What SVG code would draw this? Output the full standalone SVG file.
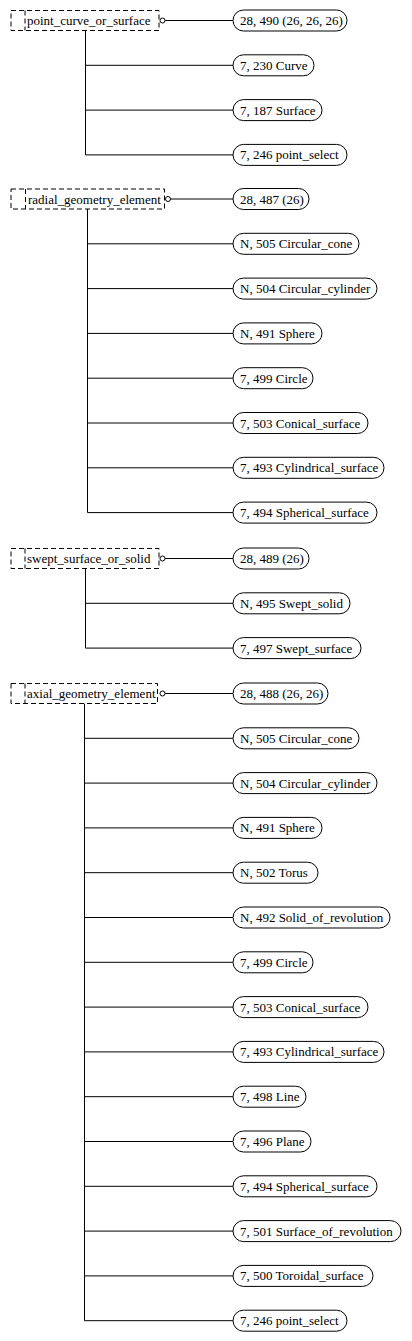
<svg xmlns="http://www.w3.org/2000/svg" width="412" height="1341" viewBox="0 0 412 1341">
<style>
text{font-family:"Liberation Serif","Times New Roman",serif;font-size:13px;fill:#000}
.hb{fill:#fff;stroke:#000;stroke-width:1;stroke-dasharray:5 3}
.pill{fill:#fff;stroke:#000;stroke-width:1}
.ln{stroke:#000;stroke-width:1;fill:none}
.oc{fill:#fff;stroke:#000;stroke-width:1}
</style>
<rect width="412" height="1341" fill="#fff"/>
<g id="connectors">
<!-- group 1 -->
<line class="ln" x1="165" y1="20.5" x2="233" y2="20.5"/>
<path class="ln" d="M85.5 30.5V154.9M85.5 65.3H233M85.5 110.1H233M85.5 154.9H233"/>
<!-- group 2 -->
<line class="ln" x1="170.5" y1="199" x2="233" y2="199"/>
<path class="ln" d="M87.5 209V512.6M87.5 243.8H233M87.5 288.6H233M87.5 333.4H233M87.5 378.2H233M87.5 423H233M87.5 467.8H233M87.5 512.6H233"/>
<!-- group 3 -->
<line class="ln" x1="165" y1="558.5" x2="233" y2="558.5"/>
<path class="ln" d="M85.5 568.5V648.1M85.5 603.3H233M85.5 648.1H233"/>
<!-- group 4 -->
<line class="ln" x1="165" y1="693.5" x2="233" y2="693.5"/>
<path class="ln" d="M84.5 703.5V1320.7M84.5 738.3H233M84.5 783.1H233M84.5 827.9H233M84.5 872.7H233M84.5 917.5H233M84.5 962.3H233M84.5 1007.1H233M84.5 1051.9H233M84.5 1096.7H233M84.5 1141.5H233M84.5 1186.3H233M84.5 1231.1H233M84.5 1275.9H233M84.5 1320.7H233"/>
</g>

<g id="point_curve_or_surface">
<rect class="hb" x="11" y="10.5" width="148" height="20"/>
<line class="hb" x1="25" y1="10.5" x2="25" y2="30.5"/>
<circle class="oc" cx="162.5" cy="20.5" r="2.5"/>
<text x="27" y="25">point_curve_or_surface</text>
</g>
<g id="n1_1"><rect class="pill" x="233" y="10" width="114" height="21" rx="10.5"/><text x="240" y="25">28, 490 (26, 26, 26)</text></g>
<g id="n1_2"><rect class="pill" x="233" y="54.8" width="81" height="21" rx="10.5"/><text x="240" y="69.8">7, 230 Curve</text></g>
<g id="n1_3"><rect class="pill" x="233" y="99.6" width="89" height="21" rx="10.5"/><text x="240" y="114.6">7, 187 Surface</text></g>
<g id="n1_4"><rect class="pill" x="233" y="144.4" width="114" height="21" rx="10.5"/><text x="240" y="159.4">7, 246 point_select</text></g>

<g id="radial_geometry_element">
<rect class="hb" x="11" y="189" width="153.5" height="20"/>
<line class="hb" x1="25.5" y1="189" x2="25.5" y2="209"/>
<circle class="oc" cx="168" cy="199" r="2.5"/>
<text x="28" y="203.5">radial_geometry_element</text>
</g>
<g id="n2_1"><rect class="pill" x="233" y="188.5" width="76" height="21" rx="10.5"/><text x="240" y="203.5">28, 487 (26)</text></g>
<g id="n2_2"><rect class="pill" x="233" y="233.3" width="126" height="21" rx="10.5"/><text x="240" y="248.3">N, 505 Circular_cone</text></g>
<g id="n2_3"><rect class="pill" x="233" y="278.1" width="144" height="21" rx="10.5"/><text x="240" y="293.1">N, 504 Circular_cylinder</text></g>
<g id="n2_4"><rect class="pill" x="233" y="322.9" width="89" height="21" rx="10.5"/><text x="240" y="337.9">N, 491 Sphere</text></g>
<g id="n2_5"><rect class="pill" x="233" y="367.7" width="80" height="21" rx="10.5"/><text x="240" y="382.7">7, 499 Circle</text></g>
<g id="n2_6"><rect class="pill" x="233" y="412.5" width="135" height="21" rx="10.5"/><text x="240" y="427.5">7, 503 Conical_surface</text></g>
<g id="n2_7"><rect class="pill" x="233" y="457.3" width="151" height="21" rx="10.5"/><text x="240" y="472.3">7, 493 Cylindrical_surface</text></g>
<g id="n2_8"><rect class="pill" x="233" y="502.1" width="144" height="21" rx="10.5"/><text x="240" y="517.1">7, 494 Spherical_surface</text></g>

<g id="swept_surface_or_solid">
<rect class="hb" x="11" y="548.5" width="148" height="20"/>
<line class="hb" x1="25" y1="548.5" x2="25" y2="568.5"/>
<circle class="oc" cx="162.5" cy="558.5" r="2.5"/>
<text x="27" y="563">swept_surface_or_solid</text>
</g>
<g id="n3_1"><rect class="pill" x="233" y="548" width="76" height="21" rx="10.5"/><text x="240" y="563">28, 489 (26)</text></g>
<g id="n3_2"><rect class="pill" x="233" y="592.8" width="117" height="21" rx="10.5"/><text x="240" y="607.8">N, 495 Swept_solid</text></g>
<g id="n3_3"><rect class="pill" x="233" y="637.6" width="128" height="21" rx="10.5"/><text x="240" y="652.6">7, 497 Swept_surface</text></g>

<g id="axial_geometry_element">
<rect class="hb" x="11" y="683.5" width="146.5" height="20"/>
<line class="hb" x1="25" y1="683.5" x2="25" y2="703.5"/>
<circle class="oc" cx="162.5" cy="693.5" r="2.5"/>
<text x="27" y="698">axial_geometry_element</text>
</g>
<g id="n4_1"><rect class="pill" x="233" y="683" width="95" height="21" rx="10.5"/><text x="240" y="698">28, 488 (26, 26)</text></g>
<g id="n4_2"><rect class="pill" x="233" y="727.8" width="126" height="21" rx="10.5"/><text x="240" y="742.8">N, 505 Circular_cone</text></g>
<g id="n4_3"><rect class="pill" x="233" y="772.6" width="144" height="21" rx="10.5"/><text x="240" y="787.6">N, 504 Circular_cylinder</text></g>
<g id="n4_4"><rect class="pill" x="233" y="817.4" width="89" height="21" rx="10.5"/><text x="240" y="832.4">N, 491 Sphere</text></g>
<g id="n4_5"><rect class="pill" x="233" y="862.2" width="85" height="21" rx="10.5"/><text x="240" y="877.2">N, 502 Torus</text></g>
<g id="n4_6"><rect class="pill" x="233" y="907" width="157" height="21" rx="10.5"/><text x="240" y="922">N, 492 Solid_of_revolution</text></g>
<g id="n4_7"><rect class="pill" x="233" y="951.8" width="80" height="21" rx="10.5"/><text x="240" y="966.8">7, 499 Circle</text></g>
<g id="n4_8"><rect class="pill" x="233" y="996.6" width="135" height="21" rx="10.5"/><text x="240" y="1011.6">7, 503 Conical_surface</text></g>
<g id="n4_9"><rect class="pill" x="233" y="1041.4" width="151" height="21" rx="10.5"/><text x="240" y="1056.4">7, 493 Cylindrical_surface</text></g>
<g id="n4_10"><rect class="pill" x="233" y="1086.2" width="73" height="21" rx="10.5"/><text x="240" y="1101.2">7, 498 Line</text></g>
<g id="n4_11"><rect class="pill" x="233" y="1131" width="78" height="21" rx="10.5"/><text x="240" y="1146">7, 496 Plane</text></g>
<g id="n4_12"><rect class="pill" x="233" y="1175.8" width="144" height="21" rx="10.5"/><text x="240" y="1190.8">7, 494 Spherical_surface</text></g>
<g id="n4_13"><rect class="pill" x="233" y="1220.6" width="168" height="21" rx="10.5"/><text x="240" y="1235.6">7, 501 Surface_of_revolution</text></g>
<g id="n4_14"><rect class="pill" x="233" y="1265.4" width="140" height="21" rx="10.5"/><text x="240" y="1280.4">7, 500 Toroidal_surface</text></g>
<g id="n4_15"><rect class="pill" x="233" y="1310.2" width="114" height="21" rx="10.5"/><text x="240" y="1325.2">7, 246 point_select</text></g>
</svg>
